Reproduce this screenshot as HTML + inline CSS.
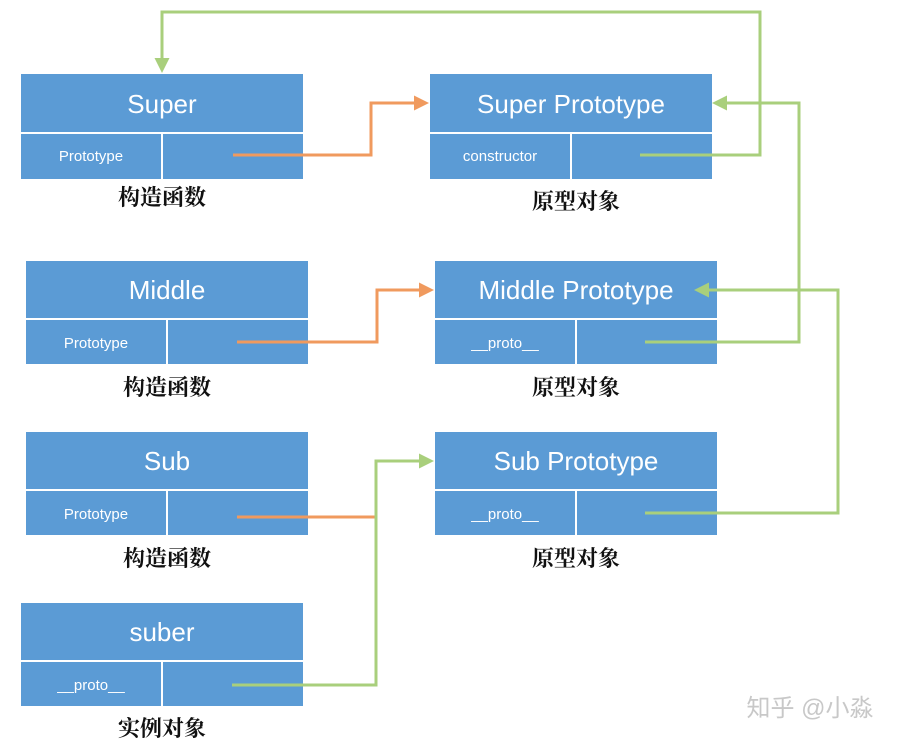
<!DOCTYPE html>
<html><head><meta charset="utf-8"><style>
body{margin:0;background:#fff;width:903px;height:744px;overflow:hidden}
svg text{font-family:"Liberation Sans","Noto Sans CJK SC",sans-serif}
.h{fill:#fff;font-size:26px;text-anchor:middle}
.s{fill:#fff;font-size:15px;text-anchor:middle}
.c{fill:#111;font-size:22px;text-anchor:middle;font-family:"Noto Serif CJK SC","Noto Sans CJK SC",serif;font-weight:bold}
</style></head><body>
<svg width="903" height="744" xmlns="http://www.w3.org/2000/svg">
<defs>
<marker id="g" markerWidth="5" markerHeight="5" refX="4" refY="2.5" orient="auto" markerUnits="strokeWidth"><path d="M0,0L5,2.5L0,5z" fill="#a9cf7c"/></marker>
<marker id="o" markerWidth="5" markerHeight="5" refX="4" refY="2.5" orient="auto" markerUnits="strokeWidth"><path d="M0,0L5,2.5L0,5z" fill="#f09a5e"/></marker>
</defs>
<g fill="#5b9bd5" stroke="#fff" stroke-width="2">
<rect x="20" y="73" width="284" height="60"/><rect x="20" y="133" width="142" height="47"/><rect x="162" y="133" width="142" height="47"/>
<rect x="429" y="73" width="284" height="60"/><rect x="429" y="133" width="142" height="47"/><rect x="571" y="133" width="142" height="47"/>
<rect x="25" y="260" width="284" height="59"/><rect x="25" y="319" width="142" height="46"/><rect x="167" y="319" width="142" height="46"/>
<rect x="434" y="260" width="284" height="59"/><rect x="434" y="319" width="142" height="46"/><rect x="576" y="319" width="142" height="46"/>
<rect x="25" y="431" width="284" height="59"/><rect x="25" y="490" width="142" height="46"/><rect x="167" y="490" width="142" height="46"/>
<rect x="434" y="431" width="284" height="59"/><rect x="434" y="490" width="142" height="46"/><rect x="576" y="490" width="142" height="46"/>
<rect x="20" y="602" width="284" height="59"/><rect x="20" y="661" width="142" height="46"/><rect x="162" y="661" width="142" height="46"/>
</g>
<text class="h" x="162" y="113">Super</text>
<text class="s" x="91" y="161">Prototype</text>
<text class="h" x="571" y="113">Super Prototype</text>
<text class="s" x="500" y="161">constructor</text>
<text class="h" x="167" y="299">Middle</text>
<text class="s" x="96" y="348">Prototype</text>
<text class="h" x="576" y="299">Middle Prototype</text>
<text class="s" x="505" y="348">__proto__</text>
<text class="h" x="167" y="470">Sub</text>
<text class="s" x="96" y="519">Prototype</text>
<text class="h" x="576" y="470">Sub Prototype</text>
<text class="s" x="505" y="519">__proto__</text>
<text class="h" x="162" y="641">suber</text>
<text class="s" x="91" y="690">__proto__</text>
<text class="c" x="162" y="205">构造函数</text>
<text class="c" x="576" y="209">原型对象</text>
<text class="c" x="167" y="395">构造函数</text>
<text class="c" x="576" y="395">原型对象</text>
<text class="c" x="167" y="566">构造函数</text>
<text class="c" x="576" y="566">原型对象</text>
<text class="c" x="162" y="736">实例对象</text>
<text x="810" y="716" fill="#c8c8c8" font-size="24" text-anchor="middle">知乎 @小淼</text>
<g fill="none" stroke-width="3">
<path d="M640,155H760V12H162V70" stroke="#a9cf7c" marker-end="url(#g)"/>
<path d="M233,155H371V103H426" stroke="#f09a5e" marker-end="url(#o)"/>
<path d="M645,342H799V103H715" stroke="#a9cf7c" marker-end="url(#g)"/>
<path d="M237,342H377V290H431" stroke="#f09a5e" marker-end="url(#o)"/>
<path d="M645,513H838V290H697" stroke="#a9cf7c" marker-end="url(#g)"/>
<path d="M237,517H376" stroke="#f09a5e"/>
<path d="M232,685H376V461H431" stroke="#a9cf7c" marker-end="url(#g)"/>
</g>
</svg>
</body></html>
